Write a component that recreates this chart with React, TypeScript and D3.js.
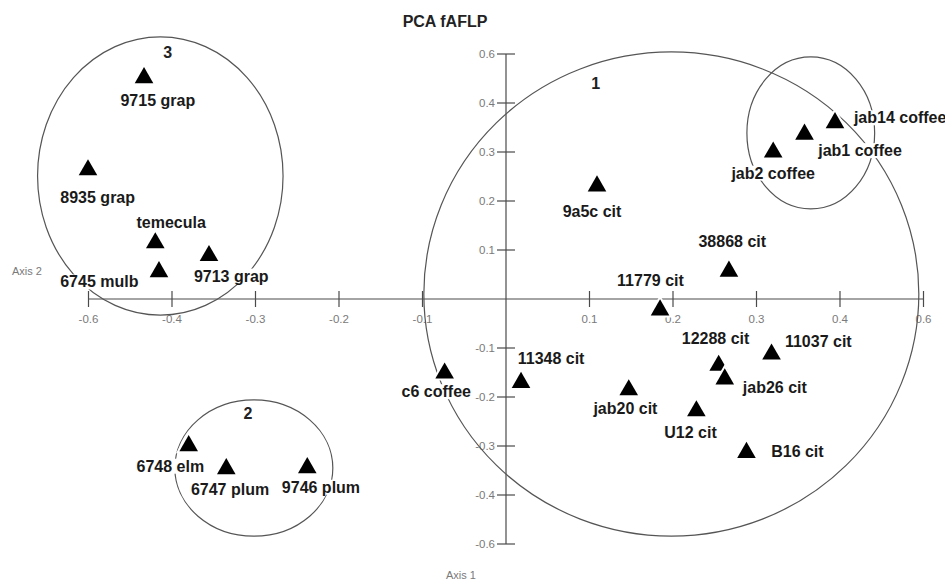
import React, { useEffect, useRef } from 'react';
import * as d3 from 'd3';

// PCA scores
const names = [
  '9715 grap', '8935 grap', 'temecula', '6745 mulb', '9713 grap',
  '6748 elm', '6747 plum', '9746 plum',
  '9a5c cit', 'jab2 coffee', 'jab1 coffee', 'jab14 coffee', '38868 cit', '11779 cit',
  'c6 coffee', '11348 cit', 'jab20 cit', '12288 cit', 'jab26 cit', '11037 cit', 'U12 cit', 'B16 cit',
];
const pc1 = [
  -0.4335, -0.5006, -0.42, -0.4156, -0.3557,
  -0.38, -0.335, -0.238,
  0.109, 0.32, 0.3575, 0.394, 0.267, 0.1845,
  -0.0735, 0.018, 0.147, 0.2547, 0.262, 0.318, 0.228, 0.288,
];
const pc2 = [
  0.457, 0.269, 0.12, 0.061, 0.094,
  -0.294, -0.341, -0.339,
  0.236, 0.305, 0.3415, 0.365, 0.062, -0.017,
  -0.146, -0.165, -0.18, -0.13, -0.158, -0.107, -0.223, -0.308,
];
// where each name sits, in axis units
const labelX = [
  -0.417, -0.489, -0.401, -0.487, -0.329,
  -0.402, -0.3305, -0.2216,
  0.103, 0.32, 0.424, 0.472, 0.271, 0.173,
  -0.0835, 0.054, 0.143, 0.251, 0.322, 0.374, 0.221, 0.349,
];
const labelY = [
  0.406, 0.208, 0.157, 0.035, 0.047,
  -0.341, -0.388, -0.384,
  0.178, 0.257, 0.303, 0.37, 0.118, 0.0386,
  -0.189, -0.122, -0.223, -0.08, -0.18, -0.087, -0.272, -0.312,
];

// cluster outlines (centre and radii in axis units)
const ringX = [0.198, -0.302, -0.414, 0.365];
const ringY = [0.0102, -0.345, 0.251, 0.339];
const ringRx = [0.2964, 0.0946, 0.147, 0.0765];
const ringRy = [0.494, 0.139, 0.284, 0.155];

const groupNames = ['1', '2', '3'];
const groupX = [0.1075, -0.309, -0.405];
const groupY = [0.439, -0.233, 0.504];

const tickValues = [-0.5, -0.4, -0.3, -0.2, -0.1, 0.1, 0.2, 0.3, 0.4, 0.5];
const xTickLabels = ['-0.6', '-0.4', '-0.3', '-0.2', '-0.1', '0.1', '0.2', '0.3', '0.4', '0.6'];
const yTickLabels = ['-0.6', '-0.4', '-0.3', '-0.2', '-0.1', '0.1', '0.2', '0.3', '0.4', '0.6'];

export default function App() {
  const svgRef = useRef<SVGSVGElement>(null);

  useEffect(() => {
    const svg = d3.select(svgRef.current);
    svg.selectAll('*').remove();

    const font = '"Liberation Sans", Arial, sans-serif';
    const axisColor = '#4a4a4a';

    const x = d3.scaleLinear().domain([-0.5, 0.5]).range([88.5, 923.5]);
    const y = d3.scaleLinear().domain([-0.5, 0.5]).range([544, 54]);
    const x0 = x(0);
    const y0 = y(0);

    svg
      .append('text')
      .attr('x', 445)
      .attr('y', 27)
      .attr('text-anchor', 'middle')
      .attr('font-family', font)
      .attr('font-weight', 'bold')
      .attr('font-size', 16)
      .attr('fill', '#222')
      .text('PCA fAFLP');

    // axes through the origin
    const axes = svg.append('g').attr('stroke', axisColor).attr('stroke-width', 1.2);
    axes.append('line').attr('x1', x(-0.5)).attr('x2', x(0.5)).attr('y1', y0).attr('y2', y0);
    axes.append('line').attr('x1', x0).attr('x2', x0).attr('y1', y(0.5)).attr('y2', y(-0.5));
    axes
      .selectAll('.xt')
      .data(tickValues)
      .enter()
      .append('line')
      .attr('x1', (d) => x(d))
      .attr('x2', (d) => x(d))
      .attr('y1', y0 - 8)
      .attr('y2', y0 + 8);
    axes
      .selectAll('.yt')
      .data(tickValues)
      .enter()
      .append('line')
      .attr('x1', x0 - 9)
      .attr('x2', x0 + 9)
      .attr('y1', (d) => y(d))
      .attr('y2', (d) => y(d));

    const tickText = svg
      .append('g')
      .attr('font-family', font)
      .attr('font-size', 11.5)
      .attr('fill', '#7a7a7a');
    tickText
      .selectAll('.xl')
      .data(tickValues)
      .enter()
      .append('text')
      .attr('x', (d) => x(d))
      .attr('y', y0 + 24)
      .attr('text-anchor', 'middle')
      .text((_, i) => xTickLabels[i]);
    tickText
      .selectAll('.yl')
      .data(tickValues)
      .enter()
      .append('text')
      .attr('x', x0 - 11)
      .attr('y', (d) => y(d) + 4)
      .attr('text-anchor', 'end')
      .text((_, i) => yTickLabels[i]);

    tickText.append('text').attr('x', 12).attr('y', 275).attr('font-size', 11).text('Axis 2');
    tickText.append('text').attr('x', 446).attr('y', 579).attr('font-size', 11).text('Axis 1');

    // cluster ellipses
    svg
      .append('g')
      .selectAll('ellipse')
      .data(ringX)
      .enter()
      .append('ellipse')
      .attr('cx', (d) => x(d))
      .attr('cy', (_, i) => y(ringY[i]))
      .attr('rx', (_, i) => x(ringRx[i]) - x0)
      .attr('ry', (_, i) => y0 - y(ringRy[i]))
      .attr('fill', 'none')
      .attr('stroke', '#555')
      .attr('stroke-width', 1.2);

    svg
      .append('g')
      .selectAll('text')
      .data(groupNames)
      .enter()
      .append('text')
      .attr('x', (_, i) => x(groupX[i]))
      .attr('y', (_, i) => y(groupY[i]))
      .attr('dy', '0.35em')
      .attr('text-anchor', 'middle')
      .attr('font-family', font)
      .attr('font-weight', 'bold')
      .attr('font-size', 16)
      .attr('fill', '#222')
      .text((d) => d);

    // sample names on white boxes
    const labels = svg.append('g');
    names.forEach((name, i) => {
      const g = labels.append('g');
      const rect = g.append('rect').attr('fill', '#fff');
      const t = g
        .append('text')
        .attr('x', x(labelX[i]))
        .attr('y', y(labelY[i]))
        .attr('dy', '0.35em')
        .attr('text-anchor', 'middle')
        .attr('font-family', font)
        .attr('font-weight', 'bold')
        .attr('font-size', 16)
        .attr('fill', '#1a1a1a')
        .text(name);
      const b = (t.node() as SVGTextElement).getBBox();
      rect
        .attr('x', b.x - 1)
        .attr('y', b.y + 1)
        .attr('width', b.width + 2)
        .attr('height', b.height - 2);
    });

    const tri = d3.symbol().type(d3.symbolTriangle).size(150);
    svg
      .append('g')
      .selectAll('path')
      .data(pc1)
      .enter()
      .append('path')
      .attr('d', tri)
      .attr('transform', (d, i) => `translate(${x(d)},${y(pc2[i]) + 2.7})`)
      .attr('fill', '#000')
      .attr('stroke', '#fff')
      .attr('stroke-width', 4)
      .attr('paint-order', 'stroke');
  }, []);

  return (
    <svg
      ref={svgRef}
      width={945}
      height={582}
      style={{ position: 'absolute', left: 0, top: 0, background: '#fff' }}
    />
  );
}
